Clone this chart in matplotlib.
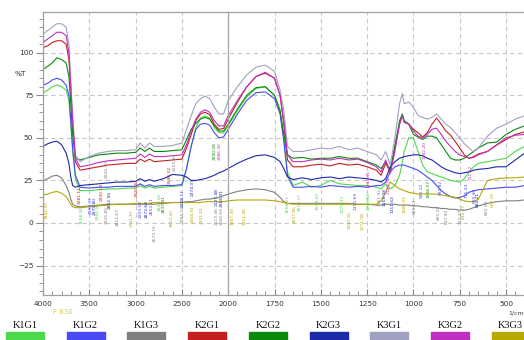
import numpy as np
import matplotlib
matplotlib.use("Agg")
import matplotlib.pyplot as plt
from matplotlib.patches import Rectangle
from matplotlib.ticker import FixedLocator, MultipleLocator

# wavenumber grid (1/cm) shared by all spectra
wn = [4000, 3950, 3900, 3850, 3800, 3750, 3720, 3700, 3680, 3650,
      3600, 3500, 3400, 3300, 3200, 3100, 3000, 2950, 2900, 2850,
      2800, 2700, 2600, 2500, 2450, 2400, 2350, 2300, 2250, 2200,
      2150, 2100, 2050, 2000, 1950, 1900, 1850, 1800, 1750, 1720,
      1700, 1680, 1650, 1600, 1550, 1500, 1450, 1400, 1350, 1300,
      1250, 1200, 1175, 1150, 1125, 1100, 1075, 1060, 1050, 1025,
      1000, 975, 950, 925, 900, 875, 850, 825, 800, 775,
      750, 725, 700, 675, 650, 600, 550, 500, 450, 400]

# %T of each sample
k1g1 = [76.5, 78, 80, 81, 80, 78, 72, 58, 42, 26,
        19, 19, 19.5, 20, 20, 20.5, 20.5, 22, 20.5, 21.5,
        20.5, 21, 21.5, 22, 32, 45, 56, 61.5, 63, 61.5,
        56, 53, 53, 57, 66, 74, 79, 80, 75, 66,
        50, 30, 22, 24, 21, 22, 25, 23, 22.5, 22,
        22, 21, 20, 23, 20, 22, 28, 35, 42, 50,
        50, 42, 34, 30, 29, 28, 27, 26, 25, 24.5,
        24, 26, 30, 33, 35, 36, 37, 38, 42, 45]
k1g2 = [81, 82, 84, 85, 84, 81, 75, 60, 44, 28,
        21, 20.5, 21, 21, 21.5, 21.5, 21.5, 23, 21.5, 22.5,
        21.5, 22, 22, 22.5, 32, 45, 55, 58, 58.5, 57.5,
        53, 50, 50.5, 55, 64, 72, 76.5, 77, 73, 64,
        48, 28, 21, 21, 21.5, 21, 22, 21.5, 21, 21.5,
        21, 22, 22, 24, 30, 33, 34, 34, 34, 33,
        32, 31, 29, 27, 25, 22, 19, 17, 15.5, 14.7,
        15, 16, 18, 19, 19.5, 20, 20.5, 21, 21, 22]
k1g3 = [24.8, 26, 27.5, 28, 26.5, 22, 18, 14, 11, 10,
        9.5, 10, 10.5, 11, 11, 11, 11, 11, 11, 11,
        11, 11.5, 12, 12, 12.5, 12.5, 13, 13.5, 14, 14,
        14.5, 15, 16, 17, 18.5, 19.5, 20, 19.5, 18, 15,
        12.5, 11.5, 11.5, 11.5, 11.5, 11.5, 11.5, 11.5, 11.5, 11,
        11, 10.5, 10.5, 11, 11, 11, 10.5, 10.5, 10.5, 10.5,
        10, 10, 9.5, 9.5, 9, 9, 8.5, 8.5, 8, 8,
        7.5, 7.5, 8, 9, 10, 11.5, 12.5, 13, 13, 13.5]
k2g1 = [103, 104, 106, 107, 107, 105, 96, 78, 58, 36,
        31, 32, 33, 34, 34.5, 35, 35, 37.5, 36, 37.5,
        36, 36.5, 37, 37.5, 44, 52, 60, 64, 65, 63.5,
        58, 55, 55.5, 61, 71, 80, 86, 88, 85, 75,
        58, 37, 33, 33, 34, 34.5, 33.5, 35, 34, 34.5,
        33, 31, 28, 35, 30, 45, 58, 63, 60, 58,
        55, 53, 50.5, 53, 58, 61.6, 58, 54, 51.6, 48,
        44, 40, 38, 39, 40.5, 42, 45.8, 49, 52, 53.5]
k2g2 = [90, 92, 94, 97, 96, 94, 86, 70, 52, 38,
        37, 38.5, 40, 40.5, 41, 41, 41.5, 44, 42, 44,
        42, 42, 42.5, 43, 49, 55, 58.5, 61, 62, 61,
        57, 54, 54, 58, 67, 75, 79.5, 80, 75, 66,
        52, 40, 38, 38.5, 37.5, 38, 38, 39, 38, 38,
        36, 34, 32, 36, 31, 45, 60, 64, 60, 58,
        52, 50.5, 49, 51, 51, 50, 46, 42, 38, 37,
        37, 38, 40, 42, 44, 47, 47.5, 52, 55, 57]
k2g3 = [45, 46.5, 47.5, 48, 46, 41, 35, 27, 22, 21,
        22, 22.5, 23, 23.5, 24, 24, 24.5, 26, 24.5, 25.5,
        24.5, 26, 28.5, 28, 27, 25, 25, 25.5, 26, 27,
        28, 29.5, 30.5, 32, 35, 37.5, 39.5, 40, 38.5, 36,
        32, 27, 25.5, 26.5, 25.5, 26.5, 27, 26, 27, 26.5,
        26, 25, 24, 26, 33, 36, 38, 38.5, 39, 39.5,
        40, 40, 39.5, 38, 37, 35, 33, 31.5, 30.5, 29.5,
        29, 29.5, 30, 31, 31.5, 32, 33, 33, 37, 41]
k3g1 = [111, 113, 115, 117, 117, 115, 105, 83, 63, 40,
        36, 39, 41, 42, 42.5, 42.5, 43, 47, 44, 47,
        45, 45, 45.5, 47, 55, 63, 70, 73, 74.5, 73,
        68, 64, 64, 72, 80, 87, 91.5, 92.7, 89, 78,
        66, 45, 42, 42, 43, 44, 43.5, 45, 43, 44,
        42, 40, 37, 42, 34, 50, 70, 76, 70, 71,
        68, 63, 62, 61, 62, 64, 61, 58, 56, 53,
        50, 46.5, 44, 41.7, 44, 51, 55.7, 58, 61, 63]
k3g2 = [106, 108, 110, 112, 112, 110, 100, 80, 60, 38,
        33, 34, 35.5, 36.5, 37, 37.5, 38, 40.5, 38.5, 40.5,
        39, 39, 39.5, 40, 46, 54, 61, 65, 66.5, 65,
        60, 57, 57, 63, 72, 80, 86, 88.5, 85, 75,
        60, 40, 36, 36, 37, 37.5, 37, 38, 37, 37.5,
        35.5, 33, 30, 37, 29, 42, 58, 63, 59, 58,
        54, 51, 50, 52, 55, 55.7, 52, 48, 45, 42,
        40, 39, 38, 38.5, 40, 42, 46, 50, 51.5, 52]
k3g3 = [16.4, 17, 18, 18.5, 17.5, 15.5, 13, 11, 9.5, 9,
        9, 9.5, 10, 10.5, 11, 11, 11.5, 11.5, 11.5, 11.5,
        12, 12, 12, 12, 12, 12, 12, 12, 12.5, 12.5,
        12.5, 12.5, 12.5, 13, 13.5, 13.5, 13.5, 13.5, 13, 12.5,
        12, 11.5, 11, 11, 11, 11, 11, 11, 11, 11,
        11, 11, 13, 18, 24, 22, 20, 19.5, 19, 18,
        17.5, 17, 17, 17, 17, 17, 16.5, 16, 15.5, 15,
        14, 13, 12.5, 12.5, 14, 25, 26, 26.5, 26.5, 27]

names = ["K1G1", "K1G2", "K1G3", "K2G1", "K2G2", "K2G3", "K3G1", "K3G2", "K3G3"]
colors = ["#4cd94c", "#4a4af5", "#808080", "#c42020", "#0a8a0a",
          "#1a2aa8", "#a0a0c0", "#c030c0", "#b8a800"]
series = [k1g1, k1g2, k1g3, k2g1, k2g2, k2g3, k3g1, k3g2, k3g3]

# peak labels: position (1/cm, %T), text, index of sample
peak_wn = [3960, 3600, 3580, 3490, 3440, 3405, 3365, 3310, 3310, 3275,
           3190, 3040, 2985, 2950, 2880, 2830, 2795, 2735, 2700, 2610,
           2630, 2575, 2487, 2487, 2380, 2380, 2285, 2145, 2090, 2125,
           2125, 2070, 2070, 1975, 1911, 1680, 1642, 1615, 1518, 1385,
           1347, 1310, 1277, 1240, 1240, 1182, 1155, 1132, 1112, 1050,
           994, 940, 955, 919, 855, 865, 820, 745, 730, 710,
           690, 670, 655, 605, 570]
peak_t = [7.6, 16.4, 4.7, 10.5, 10, 7, 18, 5, 31.6, 13.5,
          3.5, 3, 20.5, 8, 8, 10, -6, 12, 11, 3,
          28, 36, 14.5, 5, 21, 5, 4.5, 42, 42, 15,
          4, 14.5, 4, 4, 4, 11, 5, 12, 13, 11,
          2, 13, 1, 13, 26, 15, 15, 22, 11, 11,
          10, 43, 19, 20, 21, 6, 4, 4, 7, 19,
          30, 16, 14, 9, 14]
peak_txt = ["3442.50", "3081.11", "3058.36", "2992.07", "2975.80", "2966.56", "2930.18", "2925.85", "2920.30", "2852.94",
            "2814.63", "2731.81", "2920.30", "2903.52", "2872.64", "2853.11", "2673.16", "2847.20", "2837.41", "2653.40",
            "2590.02", "2551.80", "2488.17", "2384.53", "2374.37", "2368.91", "2351.01", "2090.08", "2086.36", "2127.48",
            "2113.38", "2068.91", "2060.69", "1967.39", "1911.48", "1658.21", "1637.86", "1612.27", "1508.43", "1375.33",
            "1340.20", "1315.69", "1271.08", "1246.84", "1244.35", "1161.92", "1158.08", "1120.74", "1111.62", "1080.51",
            "985.13", "1042.20", "945.12", "1008.57", "934.82", "860.25", "817.92", "752.27", "692.37", "715.34",
            "711.52", "690.46", "684.21", "660.19", "567.70"]
peak_series = [8, 3, 0, 1, 5, 0, 3, 2, 2, 5,
               2, 8, 3, 1, 5, 1, 2, 0, 4, 8,
               3, 2, 5, 2, 5, 8, 8, 4, 7, 5,
               2, 5, 2, 8, 8, 0, 8, 0, 0, 0,
               8, 1, 8, 0, 7, 2, 5, 7, 5, 8,
               2, 7, 1, 4, 1, 2, 2, 2, 8, 1,
               7, 1, 5, 2, 8]


def fwd(x):
    x = np.asarray(x, dtype=float)
    return np.where(x >= 2000, x / 2.0, x - 1000.0)


def inv(u):
    u = np.asarray(u, dtype=float)
    return np.where(u >= 1000, u * 2.0, u + 1000.0)


fig = plt.figure(figsize=(5.24, 3.40), dpi=100)
ax = fig.add_axes([43 / 524, 1 - 295 / 340, 1 - 43 / 524, (295 - 12) / 340])
ax.set_xscale("function", functions=(fwd, inv))

for s, c in zip(series, colors):
    ax.plot(wn, s, color=c, lw=0.8)

for w, t, txt, i in zip(peak_wn, peak_t, peak_txt, peak_series):
    ax.text(w, t, txt, rotation=90, fontsize=3.2, color=colors[i],
            ha="center", va="center", clip_on=True)

ax.set_xlim(4000, 403)
ax.set_ylim(-42.3, 123.9)

ax.xaxis.set_major_locator(FixedLocator([4000, 3500, 3000, 2500, 2000, 1750, 1500, 1250, 1000, 750, 500]))
ax.xaxis.set_minor_locator(FixedLocator(list(range(3900, 2000, -100)) + list(range(1950, 400, -50))))
ax.yaxis.set_major_locator(MultipleLocator(25))
ax.yaxis.set_minor_locator(MultipleLocator(5))

ax.tick_params(axis="x", which="both", direction="in", labelsize=5.3, labelcolor="#333333",
               color="#888888", pad=4)
ax.tick_params(axis="x", which="major", length=4)
ax.tick_params(axis="x", which="minor", length=3)
ax.tick_params(axis="y", which="both", direction="out", labelsize=5.3, labelcolor="#333333",
               color="#888888", pad=2)
ax.tick_params(axis="y", which="major", length=5)
ax.tick_params(axis="y", which="minor", length=3)

ax.grid(True, which="major", color="#c8c8c8", linestyle=(0, (4, 3)), linewidth=0.8)
ax.axvline(2000, color="#a8a8a8", lw=0.9)
for side in ["left", "top", "bottom"]:
    ax.spines[side].set_color("#a0a0a0")
    ax.spines[side].set_linewidth(0.9)
ax.spines["right"].set_visible(False)

ax.text(-0.035, 87.5, "%T", transform=ax.get_yaxis_transform(), fontsize=5.3,
        color="#333333", ha="right", va="center")
fig.text(1.0, 1 - 313 / 340, "1/cm", fontsize=4.5, color="#444444", ha="right", va="center")
fig.text(63 / 524, 1 - 312 / 340, "F 830", fontsize=5, color="#d8c850", ha="center", va="center")

# legend row under the chart
for i, (n, c) in enumerate(zip(names, colors)):
    xc = (25 + i * 60.7) / 524
    fig.text(xc, 1 - 325 / 340, n, fontsize=7.5, family="Liberation Serif",
             ha="center", va="center", color="#111111")
    fig.patches.append(Rectangle((xc - 19 / 524, 0), 38 / 524, 8 / 340,
                                 transform=fig.transFigure, color=c, figure=fig))

fig.savefig("out.png", dpi=100)
